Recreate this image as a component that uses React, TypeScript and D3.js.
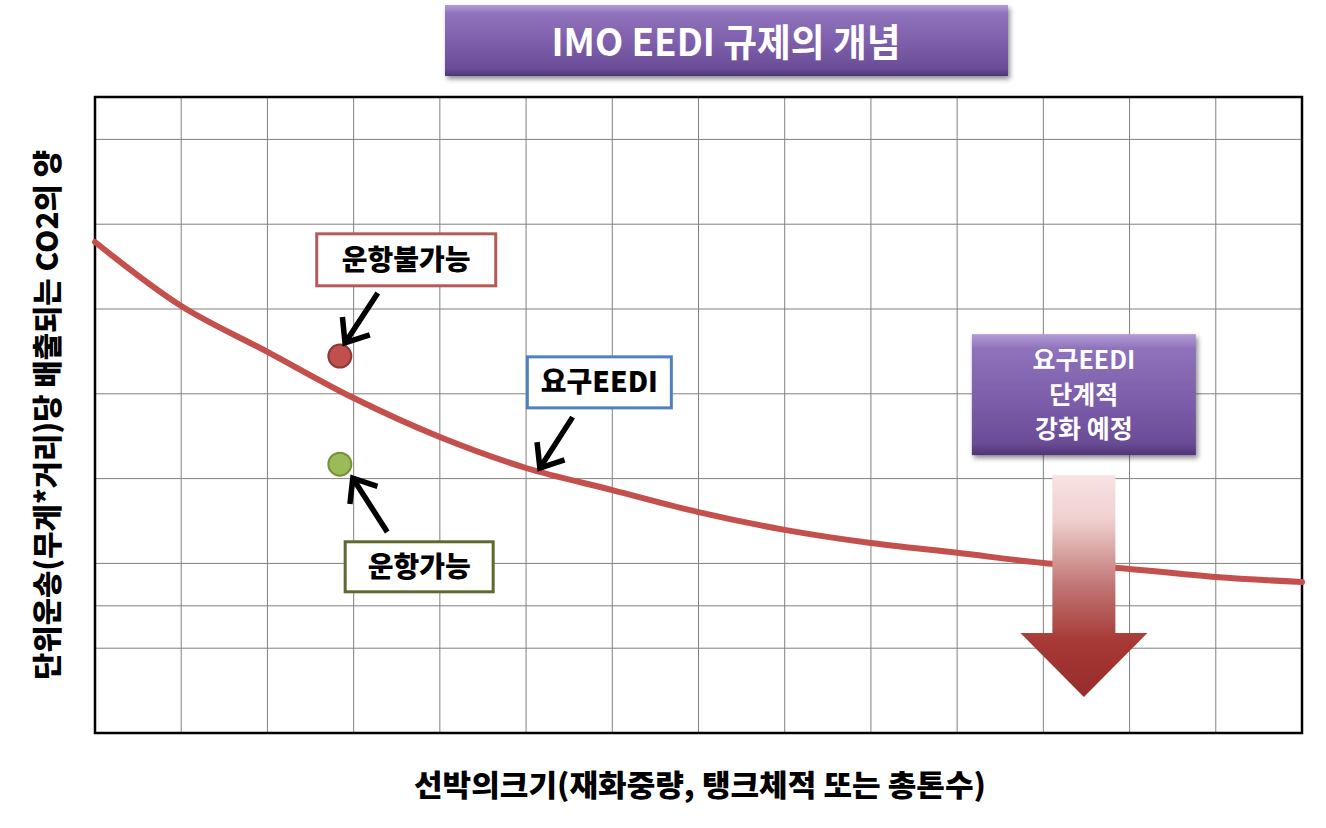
import { useMemo } from "react";
import * as d3 from "d3";

// ship size steps (one per vertical grid line)
const sizeSteps = d3.range(0, 15);
// required EEDI curve, read at each size step
const requiredEedi = [11.58, 10.07, 8.99, 7.9, 6.98, 6.25, 5.73, 5.21, 4.79, 4.48, 4.25, 4.01, 3.87, 3.68, 3.56];
// horizontal grid values (CO2 per transport unit)
const co2Grid = [2, 3, 4, 6, 8, 10, 12, 14];

const shipPoints = [
  { name: "운항불가능", size: 2.84, co2: 8.89, fill: "#c0504d", stroke: "#8c3a37" },
  { name: "운항가능", size: 2.84, co2: 6.34, fill: "#9bbb59", stroke: "#76923c" },
];

const callouts = [
  { text: "운항불가능", cx: 3.61, cy: 11.16, w: 179, h: 52, border: "#b65a57", from: [3.28, 10.38], to: [2.9, 9.2] },
  { text: "요구EEDI", cx: 5.85, cy: 8.27, w: 144, h: 51, border: "#4f81bd", from: [5.54, 7.45], to: [5.16, 6.25] },
  { text: "운항가능", cx: 3.76, cy: 3.92, w: 148, h: 50, border: "#5d6a2e", from: [3.39, 4.74], to: [2.99, 6.01] },
];

const stageNote = { lines: ["요구EEDI", "단계적", "강화 예정"], cx: 11.47, cy: 7.98, w: 224, h: 121 };
const dropArrow = { x: 11.47, top: 6.08, headBase: 2.36, tip: 0.85, shaft: 63, head: 127 };

const W = 1326;
const H = 828;
const plot = { left: 95, right: 1302, top: 97, bottom: 733 };

const App = () => {
  const x = useMemo(() => d3.scaleLinear().domain([0, 14]).range([plot.left, plot.right]), []);
  const y = useMemo(() => d3.scaleLinear().domain([0, 15]).range([plot.bottom, plot.top]), []);

  const curve = d3
    .line<number>()
    .x((_, i) => x(sizeSteps[i]))
    .y((d) => y(d))
    .curve(d3.curveCatmullRom.alpha(0.5))(requiredEedi);

  const arrowPath = (from: number[], to: number[]) => {
    const x1 = x(from[0]);
    const y1 = y(from[1]);
    const x2 = x(to[0]);
    const y2 = y(to[1]);
    const ang = Math.atan2(y1 - y2, x1 - x2);
    const len = 26;
    const spread = 0.68;
    const a1 = [x2 + len * Math.cos(ang + spread), y2 + len * Math.sin(ang + spread)];
    const a2 = [x2 + len * Math.cos(ang - spread), y2 + len * Math.sin(ang - spread)];
    return `M${x1},${y1}L${x2},${y2}M${a1[0]},${a1[1]}L${x2},${y2}L${a2[0]},${a2[1]}`;
  };

  const ax = x(dropArrow.x);
  const big = [
    [ax - dropArrow.shaft / 2, y(dropArrow.top)],
    [ax + dropArrow.shaft / 2, y(dropArrow.top)],
    [ax + dropArrow.shaft / 2, y(dropArrow.headBase)],
    [ax + dropArrow.head / 2, y(dropArrow.headBase)],
    [ax, y(dropArrow.tip)],
    [ax - dropArrow.head / 2, y(dropArrow.headBase)],
    [ax - dropArrow.shaft / 2, y(dropArrow.headBase)],
  ];

  const font = "'Noto Sans CJK KR', 'Noto Sans', sans-serif";

  return (
    <svg
      width={W}
      height={H}
      style={{ position: "absolute", left: 0, top: 0, background: "#fff" }}
      fontFamily={font}
    >
      <defs>
        <linearGradient id="purple" x1="0" y1="0" x2="0" y2="1">
          <stop offset="0" stopColor="#b39cd6" />
          <stop offset="0.12" stopColor="#8f72bb" />
          <stop offset="0.6" stopColor="#7a5ba8" />
          <stop offset="0.9" stopColor="#6a4c96" />
          <stop offset="1" stopColor="#4f3576" />
        </linearGradient>
        <linearGradient id="drop" x1="0" y1="0" x2="0" y2="1">
          <stop offset="0" stopColor="#f7e3e3" />
          <stop offset="0.2" stopColor="#efd0cf" />
          <stop offset="0.5" stopColor="#c07573" />
          <stop offset="0.75" stopColor="#a63936" />
          <stop offset="1" stopColor="#982c2a" />
        </linearGradient>
        <filter id="shadow" x="-10%" y="-20%" width="130%" height="150%">
          <feDropShadow dx="2" dy="3" stdDeviation="2.5" floodColor="#000" floodOpacity="0.45" />
        </filter>
      </defs>

      {/* grid */}
      <g stroke="#808080" strokeWidth={1}>
        {sizeSteps.slice(1, -1).map((s) => (
          <line key={`v${s}`} x1={x(s)} x2={x(s)} y1={plot.top} y2={plot.bottom} />
        ))}
        {co2Grid.map((v) => (
          <line key={`h${v}`} x1={plot.left} x2={plot.right} y1={y(v)} y2={y(v)} />
        ))}
      </g>
      <rect
        x={plot.left}
        y={plot.top}
        width={plot.right - plot.left}
        height={plot.bottom - plot.top}
        fill="none"
        stroke="#000"
        strokeWidth={2.5}
      />

      {/* required EEDI curve */}
      <path d={curve ?? ""} fill="none" stroke="#c4504d" strokeWidth={6} strokeLinecap="round" />

      {/* ships */}
      {shipPoints.map((p) => (
        <circle key={p.name} cx={x(p.size)} cy={y(p.co2)} r={11.5} fill={p.fill} stroke={p.stroke} strokeWidth={2} />
      ))}

      {/* callouts */}
      {callouts.map((c) => (
        <g key={c.text}>
          <rect
            x={x(c.cx) - c.w / 2}
            y={y(c.cy) - c.h / 2}
            width={c.w}
            height={c.h}
            fill="#fff"
            stroke={c.border}
            strokeWidth={3}
          />
          <text
            x={x(c.cx)}
            y={y(c.cy)}
            dy="0.36em"
            textAnchor="middle"
            fontSize={28}
            fontWeight={900}
            fill="#000"
          >
            {c.text}
          </text>
          <path d={arrowPath(c.from, c.to)} fill="none" stroke="#000" strokeWidth={5.5} strokeLinecap="butt" strokeLinejoin="miter" />
        </g>
      ))}

      {/* tightening arrow */}
      <polygon points={big.map((p) => p.join(",")).join(" ")} fill="url(#drop)" />

      {/* stage note */}
      <g filter="url(#shadow)">
        <rect
          x={x(stageNote.cx) - stageNote.w / 2}
          y={y(stageNote.cy) - stageNote.h / 2}
          width={stageNote.w}
          height={stageNote.h}
          fill="url(#purple)"
        />
      </g>
      {stageNote.lines.map((l, i) => (
        <text
          key={l}
          x={x(stageNote.cx)}
          y={y(stageNote.cy) + (i - 1) * 34.5}
          dy="0.36em"
          textAnchor="middle"
          fontSize={25}
          fontWeight={700}
          fill="#fff"
        >
          {l}
        </text>
      ))}

      {/* title */}
      <g filter="url(#shadow)">
        <rect x={445} y={5} width={563} height={71} fill="url(#purple)" />
      </g>
      <text
        x={726}
        y={42}
        dy="0.36em"
        textAnchor="middle"
        fontSize={38}
        fontWeight={700}
        fill="#fff"
        textLength={349}
        lengthAdjust="spacingAndGlyphs"
      >
        IMO EEDI 규제의 개념
      </text>

      {/* axis titles */}
      <text
        x={700}
        y={785}
        dy="0.36em"
        textAnchor="middle"
        fontSize={30}
        fontWeight={900}
        fill="#000"
        textLength={572}
        lengthAdjust="spacingAndGlyphs"
      >
        선박의크기(재화중량, 탱크체적 또는 총톤수)
      </text>
      <text
        transform="translate(47,415) rotate(-90)"
        dy="0.36em"
        textAnchor="middle"
        fontSize={30}
        fontWeight={900}
        fill="#000"
        textLength={530}
        lengthAdjust="spacingAndGlyphs"
      >
        단위운송(무게*거리)당 배출되는 CO2의 양
      </text>
    </svg>
  );
};

export default App;
